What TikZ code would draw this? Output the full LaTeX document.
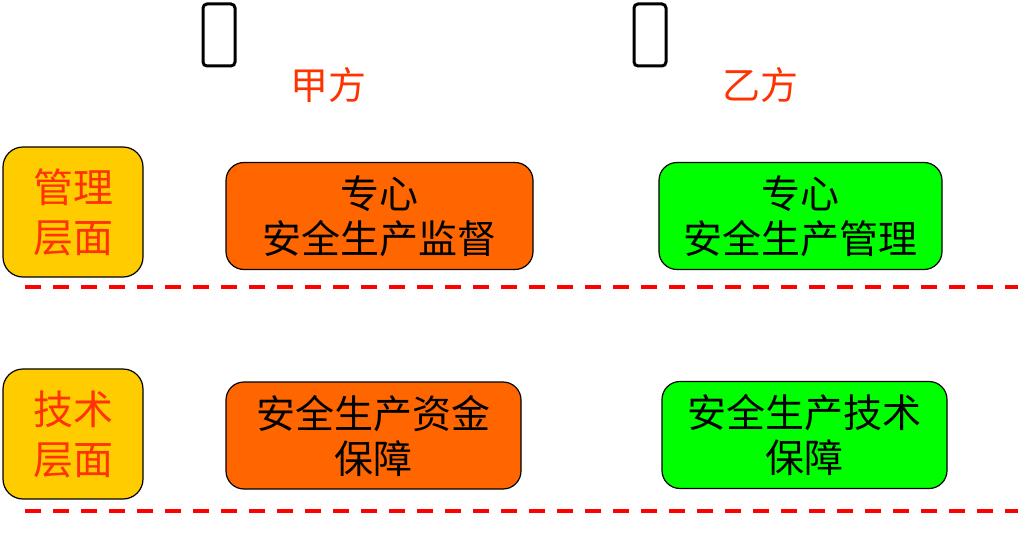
\documentclass[tikz,border=0pt]{standalone}
\usepackage{fontspec}
\newfontfamily\cjk{Noto Sans CJK SC}
\usetikzlibrary{positioning}
\definecolor{layeryellow}{HTML}{FFCC00}
\definecolor{jiaorange}{HTML}{FF6600}
\definecolor{yigreen}{HTML}{00FF00}
\definecolor{textred}{HTML}{FF3300}
\begin{document}
\begin{tikzpicture}[x=1pt, y=-1pt, thick,
		layer/.style = {draw, line width=1.2pt, fill=layeryellow, rounded corners=20pt, minimum width=140pt, minimum height=130pt, inner sep=0pt, align=center, text=textred, font=\cjk\fontsize{40}{50}\selectfont},
		task/.style = {draw, line width=1.2pt, rounded corners=18pt, minimum height=107pt, inner sep=0pt, align=center, font=\cjk\fontsize{39}{45}\selectfont},
		party/.style = {text=textred, inner sep=0pt, font=\cjk\fontsize{38}{38}\selectfont},
		phone/.style = {draw, line width=3pt, rounded corners=4pt, minimum width=32pt, minimum height=62pt, inner sep=0pt},
		sep/.style = {draw=red, line width=3.5pt, dash pattern=on 16pt off 12pt}]
		\useasboundingbox (0,0) rectangle (1018,535);
		
		\node[phone] (p1) at (219,35) {};
		\node[phone] (p2) at (650,35) {};
		\node[party] (jia) at (328,85) {甲方};
		\node[party] (yi) at (760,85) {乙方};
		
		\node[layer] (m) at (73,212) {管理\\层面};
		\node[task, fill=jiaorange, minimum width=307pt] (m1) at (379.5,216) {专心\\安全生产监督};
		\node[task, fill=yigreen, minimum width=283pt] (m2) at (800.5,216) {专心\\安全生产管理};
		
		\node[layer] (t) at (73,434) {技术\\层面};
		\node[task, fill=jiaorange, minimum width=295pt] (t1) at (373.5,435.5) {安全生产资金\\保障};
		\node[task, fill=yigreen, minimum width=285pt] (t2) at (804.5,435) {安全生产技术\\保障};
		
		%dashed separators
		\coordinate (s1a) at (25,287);
		\coordinate (s1b) at (1018,287);
		\coordinate (s2a) at (25,511);
		\coordinate (s2b) at (1018,511);
		\draw[sep] (s1a) -- (s1b);
		\draw[sep] (s2a) -- (s2b);
	\end{tikzpicture}
\end{document}
